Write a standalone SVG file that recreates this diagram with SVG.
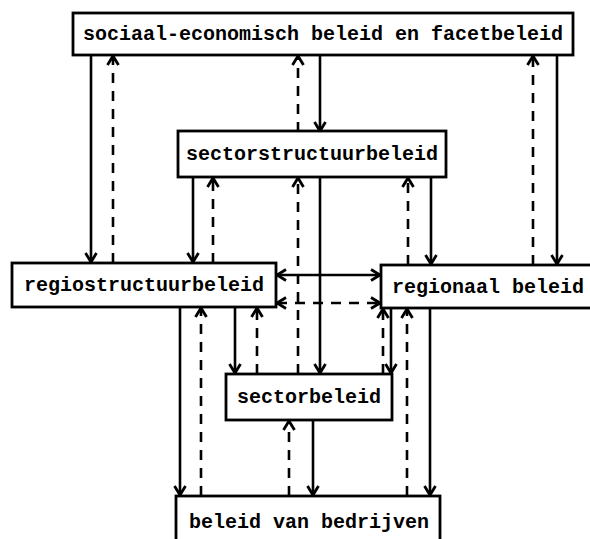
<svg xmlns="http://www.w3.org/2000/svg" width="590" height="539" viewBox="0 0 590 539">
<style>
.box{fill:#fff;stroke:#000;stroke-width:2.8}
.t{font-family:"Liberation Mono","DejaVu Sans Mono",monospace;font-weight:bold;font-size:20px;fill:#000}
.s{stroke:#000;stroke-width:2.6;fill:none;marker-end:url(#ah)}
.d{stroke:#000;stroke-width:2.6;fill:none;stroke-dasharray:10 8;marker-end:url(#ah)}
.b{marker-start:url(#ahs)}
</style>
<defs>
<marker id="ah" markerUnits="userSpaceOnUse" markerWidth="16" markerHeight="16" viewBox="-11 -8 16 16" refX="0" refY="0" orient="auto">
<path d="M-9,-5.5 L0,0 L-9,5.5" fill="none" stroke="#000" stroke-width="2.8" stroke-dasharray="none"/>
</marker>
<marker id="ahs" markerUnits="userSpaceOnUse" markerWidth="16" markerHeight="16" viewBox="-11 -8 16 16" refX="0" refY="0" orient="auto-start-reverse">
<path d="M-9,-5.5 L0,0 L-9,5.5" fill="none" stroke="#000" stroke-width="2.8" stroke-dasharray="none"/>
</marker>
</defs>
<rect width="590" height="539" fill="#fff"/>
<g id="connectors">
<line class="s" x1="91" y1="55" x2="91" y2="262"/>
<line class="d" x1="113" y1="263" x2="113" y2="56"/>
<line class="d" x1="298" y1="132" x2="298" y2="56"/>
<line class="s" x1="320" y1="55" x2="320" y2="131"/>
<line class="d" x1="533" y1="265" x2="533" y2="56"/>
<line class="s" x1="557" y1="55" x2="557" y2="264"/>
<line class="s" x1="193" y1="177" x2="193" y2="262"/>
<line class="d" x1="213" y1="263" x2="213" y2="178"/>
<line class="s" x1="320" y1="177" x2="320" y2="373"/>
<line class="d" x1="298" y1="374" x2="298" y2="178"/>
<line class="d" x1="408" y1="265" x2="408" y2="178"/>
<line class="s" x1="431" y1="177" x2="431" y2="264"/>
<line class="s b" x1="277" y1="275" x2="380" y2="275"/>
<line class="d b" x1="277" y1="303" x2="380" y2="303"/>
<line class="s" x1="180" y1="307" x2="180" y2="495"/>
<line class="d" x1="201" y1="496" x2="201" y2="308"/>
<line class="s" x1="235" y1="307" x2="235" y2="373"/>
<line class="d" x1="257" y1="374" x2="257" y2="308"/>
<line class="d" x1="383" y1="374" x2="383" y2="309"/>
<line class="s" x1="391" y1="308" x2="391" y2="373"/>
<line class="d" x1="407" y1="496" x2="407" y2="309"/>
<line class="s" x1="430" y1="308" x2="430" y2="495"/>
<line class="d" x1="289" y1="496" x2="289" y2="421"/>
<line class="s" x1="313" y1="420" x2="313" y2="495"/>
</g>
<g id="n-sociaal">
<rect class="box" x="73" y="13" width="500" height="42"/>
<text class="t" x="323" y="40" text-anchor="middle">sociaal-economisch beleid en facetbeleid</text>
</g>
<g id="n-sectorstructuur">
<rect class="box" x="178" y="131" width="268" height="46"/>
<text class="t" x="312" y="160" text-anchor="middle">sectorstructuurbeleid</text>
</g>
<g id="n-regiostructuur">
<rect class="box" x="12" y="263" width="264" height="44"/>
<text class="t" x="144" y="291" text-anchor="middle">regiostructuurbeleid</text>
</g>
<g id="n-regionaal">
<rect class="box" x="381" y="265" width="220" height="43"/>
<text class="t" x="392" y="293">regionaal beleid</text>
</g>
<g id="n-sectorbeleid">
<rect class="box" x="226" y="374" width="166" height="46"/>
<text class="t" x="309" y="403" text-anchor="middle">sectorbeleid</text>
</g>
<g id="n-bedrijven">
<rect class="box" x="176" y="496" width="264" height="50"/>
<text class="t" x="309" y="528" text-anchor="middle">beleid van bedrijven</text>
</g>
</svg>
